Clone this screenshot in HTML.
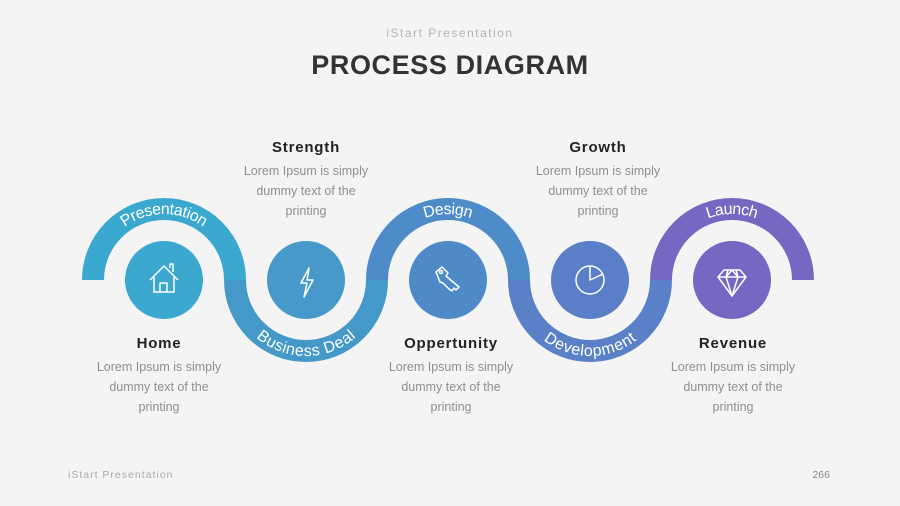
<!DOCTYPE html>
<html><head><meta charset="utf-8"><style>
html,body{margin:0;padding:0;background:#f4f4f4;}
svg{display:block;font-family:"Liberation Sans",sans-serif;}
.t{font-size:15px;font-weight:bold;fill:#222;letter-spacing:0.8px;text-anchor:middle;}
.b{font-size:12.5px;fill:#8f8f8f;text-anchor:middle;}
.a{font-size:16px;fill:#fff;}
</style></head><body>
<svg width="900" height="506" viewBox="0 0 900 506">
<rect width="900" height="506" fill="#f4f4f4"/>
<text x="450" y="37" text-anchor="middle" font-size="12" fill="#b5b5b5" letter-spacing="1.5">iStart Presentation</text>
<text x="450" y="74" text-anchor="middle" font-size="27" font-weight="bold" fill="#333" letter-spacing="0.6">PROCESS DIAGRAM</text>
<defs>
<path id="p1" d="M93,280 A71,71 0 0 1 235,280"/>
<path id="p2" d="M235,280 A71,71 0 0 0 377,280"/>
<path id="p3" d="M377,280 A71,71 0 0 1 519,280"/>
<path id="p4" d="M519,280 A71,71 0 0 0 661,280"/>
<path id="p5" d="M661,280 A71,71 0 0 1 803,280"/>
</defs>
<g fill="none" stroke-width="22">
<use href="#p1" stroke="#3aa8cf"/>
<use href="#p2" stroke="#4499c9"/>
<use href="#p3" stroke="#4d8bc9"/>
<use href="#p4" stroke="#5a80c8"/>
<use href="#p5" stroke="#7468c2"/>
</g>
<g class="a" dominant-baseline="central">
<text class="a"><textPath href="#p1" startOffset="50%" text-anchor="middle" dominant-baseline="central">Presentation</textPath></text>
<text class="a"><textPath href="#p2" startOffset="50%" text-anchor="middle" dominant-baseline="central">Business Deal</textPath></text>
<text class="a"><textPath href="#p3" startOffset="50%" text-anchor="middle" dominant-baseline="central">Design</textPath></text>
<text class="a"><textPath href="#p4" startOffset="50%" text-anchor="middle" dominant-baseline="central">Development</textPath></text>
<text class="a"><textPath href="#p5" startOffset="50%" text-anchor="middle" dominant-baseline="central">Launch</textPath></text>
</g>
<circle cx="164" cy="280" r="39" fill="#3ca7cf"/>
<circle cx="306" cy="280" r="39" fill="#4699c9"/>
<circle cx="448" cy="280" r="39" fill="#4e8ac8"/>
<circle cx="590" cy="280" r="39" fill="#5a7fc8"/>
<circle cx="732" cy="280" r="39" fill="#7567c2"/>
<g fill="none" stroke="#fff" stroke-width="1.5" stroke-linejoin="round">
<path d="M150,280 L164,266 L178,280 M154,276 V292 H174 V276 M160,292 V283 H167 V292 M170,268 V264 H173 V272"/>
<path d="M309,268 L301,283 H307 L304,297 L313,280 H307 Z"/>
<path d="M436,272 L442,267 L448,273 L446,276 L459,287 L456,290 L454,288 L452,291 L449,289 L443,283 L440,282 Z"/><circle cx="441" cy="272" r="1.5"/>
<circle cx="590" cy="280" r="14"/><path d="M590,266 V280 L603,274"/>
<path d="M724,270 H740 L746,277 L732,296 L718,277 Z M718,277 H746 M728,270 L726,277 L732,296 L738,277 L736,270 M726,277 L732,270 L738,277"/>
</g>
<text class="t" x="306" y="152">Strength</text>
<text class="b" x="306" y="175">Lorem Ipsum is simply</text>
<text class="b" x="306" y="195">dummy text of the</text>
<text class="b" x="306" y="215">printing</text>
<text class="t" x="598" y="152">Growth</text>
<text class="b" x="598" y="175">Lorem Ipsum is simply</text>
<text class="b" x="598" y="195">dummy text of the</text>
<text class="b" x="598" y="215">printing</text>
<text class="t" x="159" y="348">Home</text>
<text class="b" x="159" y="371">Lorem Ipsum is simply</text>
<text class="b" x="159" y="391">dummy text of the</text>
<text class="b" x="159" y="411">printing</text>
<text class="t" x="451" y="348">Oppertunity</text>
<text class="b" x="451" y="371">Lorem Ipsum is simply</text>
<text class="b" x="451" y="391">dummy text of the</text>
<text class="b" x="451" y="411">printing</text>
<text class="t" x="733" y="348">Revenue</text>
<text class="b" x="733" y="371">Lorem Ipsum is simply</text>
<text class="b" x="733" y="391">dummy text of the</text>
<text class="b" x="733" y="411">printing</text>
<text x="68" y="478" font-size="10.5" fill="#aaa" letter-spacing="1">iStart Presentation</text>
<text x="830" y="478" font-size="10.5" fill="#888" text-anchor="end">266</text>
</svg>
</body></html>
